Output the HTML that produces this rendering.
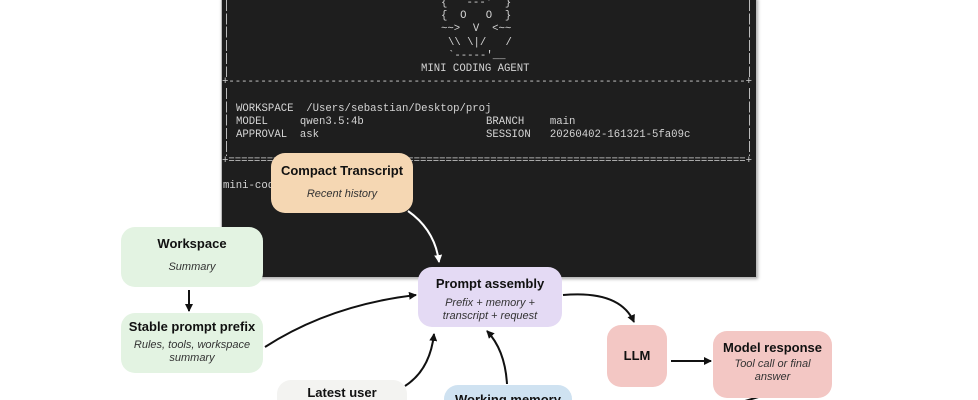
<!DOCTYPE html>
<html><head><meta charset="utf-8"><style>
html,body{margin:0;padding:0;background:#fff;width:978px;height:400px;overflow:hidden;position:relative;font-family:"Liberation Sans",sans-serif}
#term{position:absolute;left:221px;top:-2px;width:534px;height:278px;background:#1e1e1e;border:1px solid #bbb;box-shadow:1px 1px 3px #aaa}
.t{position:absolute;font-family:"Liberation Mono",monospace;font-size:10.65px;color:#d4d4d4;white-space:pre;line-height:12px}
.n{position:absolute;border-radius:14px;text-align:center;color:#111;overflow:hidden}
.n b{display:block;font-size:13px;font-weight:bold}
.n i{display:block;font-size:11px;color:#333;line-height:13px}
.bar{position:absolute;width:1px;background:repeating-linear-gradient(#bbb 0 11px,transparent 11px 13.3px)}
</style></head><body>
<div id="term"></div>
<div class="bar" style="left:226px;top:0;height:77px"></div>
<div class="bar" style="left:749px;top:0;height:77px"></div>
<div class="bar" style="left:226px;top:88px;height:68px"></div>
<div class="bar" style="left:749px;top:88px;height:68px"></div>
<div class="t" style="left:441px;top:-3px">{  `---'  }</div>
<div class="t" style="left:441px;top:10px">{  O   O  }</div>
<div class="t" style="left:441px;top:23px">~~>  V  &lt;~~</div>
<div class="t" style="left:448px;top:37px">\\ \|/   /</div>
<div class="t" style="left:448px;top:50px">`-----'__</div>
<div class="t" style="left:421px;top:63px">MINI CODING AGENT</div>
<div class="t" style="left:222px;top:76px">+---------------------------------------------------------------------------------+</div>
<div class="t" style="left:236px;top:103px">WORKSPACE  /Users/sebastian/Desktop/proj</div>
<div class="t" style="left:236px;top:116px">MODEL     qwen3.5:4b</div>
<div class="t" style="left:236px;top:129px">APPROVAL  ask</div>
<div class="t" style="left:486px;top:116px">BRANCH    main</div>
<div class="t" style="left:486px;top:129px">SESSION   20260402-161321-5fa09c</div>
<div class="t" style="left:222px;top:155px">+=================================================================================+</div>
<div class="t" style="left:223px;top:180px">mini-coding-agent</div>

<svg style="position:absolute;left:0;top:0" width="978" height="400">
<defs>
<marker id="a" markerWidth="8" markerHeight="8" refX="7" refY="4" orient="auto" markerUnits="userSpaceOnUse"><path d="M0,0L8,4L0,8z" fill="#111"/></marker>
<marker id="w" markerWidth="8" markerHeight="8" refX="7" refY="4" orient="auto" markerUnits="userSpaceOnUse"><path d="M0,0L8,4L0,8z" fill="#fff"/></marker>
</defs>
<g fill="none" stroke-width="2">
<path d="M408,211 Q435,230 439,262" stroke="#fff" marker-end="url(#w)"/>
<path d="M189,290 L189,311" stroke="#111" marker-end="url(#a)"/>
<path d="M265,347 Q330,305 416,295" stroke="#111" marker-end="url(#a)"/>
<path d="M405,386 Q430,370 434,334" stroke="#111" marker-end="url(#a)"/>
<path d="M507,384 Q505,350 487,331" stroke="#111" marker-end="url(#a)"/>
<path d="M563,295 Q620,290 634,322" stroke="#111" marker-end="url(#a)"/>
<path d="M671,361 L711,361" stroke="#111" marker-end="url(#a)"/>
<path d="M772,393 L745,401" stroke="#111"/>
</g>
</svg>

<div class="n" style="left:271px;top:153px;width:142px;height:60px;background:#f5d7b3"><b style="margin-top:10px">Compact Transcript</b><i style="margin-top:10px">Recent history</i></div>
<div class="n" style="left:121px;top:227px;width:142px;height:60px;background:#e3f3e2"><b style="margin-top:9px">Workspace</b><i style="margin-top:10px">Summary</i></div>
<div class="n" style="left:121px;top:313px;width:142px;height:60px;background:#e3f3e2"><b style="margin-top:6px">Stable prompt prefix</b><i style="margin-top:5px">Rules, tools, workspace<br>summary</i></div>
<div class="n" style="left:418px;top:267px;width:144px;height:60px;background:#e4daf4"><b style="margin-top:9px">Prompt assembly</b><i style="margin-top:6px">Prefix + memory +<br>transcript + request</i></div>
<div class="n" style="left:607px;top:325px;width:60px;height:62px;background:#f3c7c4"><b style="margin-top:23px">LLM</b></div>
<div class="n" style="left:713px;top:331px;width:119px;height:67px;background:#f3c7c4"><b style="margin-top:9px">Model response</b><i style="margin-top:3px">Tool call or final<br>answer</i></div>
<div class="n" style="left:277px;top:380px;width:130px;height:20px;border-radius:14px 14px 0 0;background:#f3f3f1"><b style="margin-top:5px">Latest user</b></div>
<div class="n" style="left:444px;top:385px;width:128px;height:15px;border-radius:14px 14px 0 0;background:#cfe2f1"><b style="margin-top:7px">Working memory</b></div>
</body></html>
